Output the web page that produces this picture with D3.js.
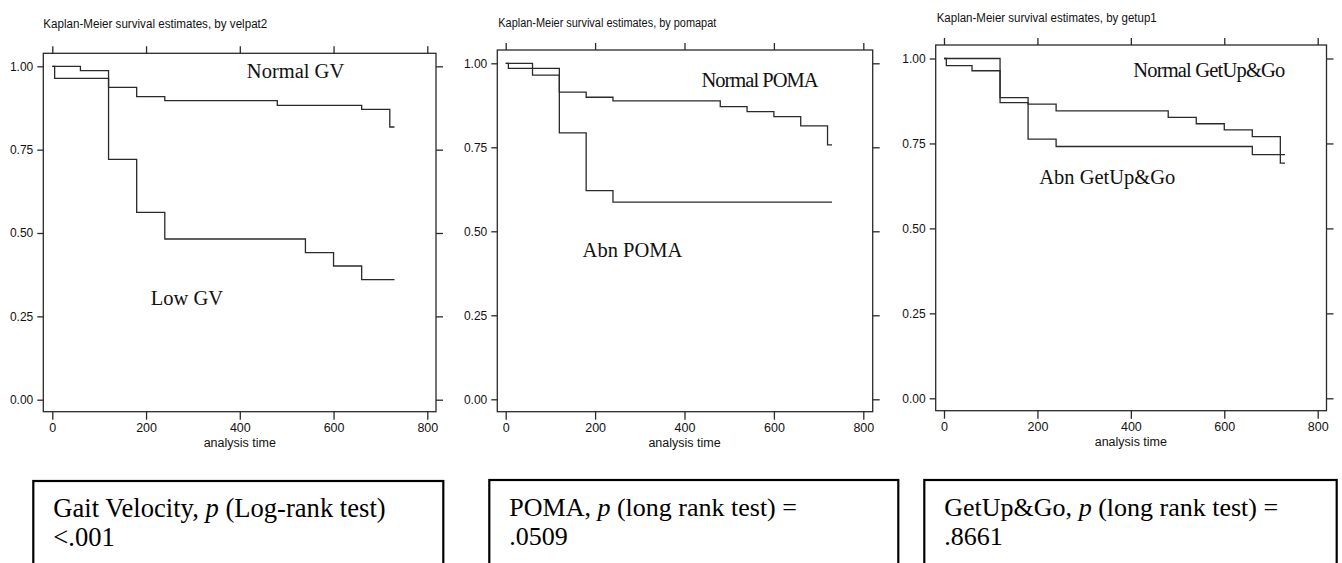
<!DOCTYPE html>
<html>
<head>
<meta charset="utf-8">
<script src="https://cdn.jsdelivr.net/npm/d3@7"></script>
<style>
  html, body { margin: 0; padding: 0; background: #fff; }
  svg { display: block; }
</style>
</head>
<body>
<svg id="chart" width="1342" height="563"></svg>
<script>
// ---------------- DATA ----------------
const panelTitles = [
  "Kaplan-Meier survival estimates, by velpat2",
  "Kaplan-Meier survival estimates, by pomapat",
  "Kaplan-Meier survival estimates, by getup1"
];
const timeTicks = [0, 200, 400, 600, 800];
const survTicks = [0, 0.25, 0.5, 0.75, 1];
const survTickLabels = ["0.00", "0.25", "0.50", "0.75", "1.00"];
const xAxisTitle = "analysis time";

// Panel 1: gait velocity
const gvNormalTime = [0, 60, 120, 180, 240, 480, 660, 720, 730];
const gvNormalSurv = [1.00, 0.987, 0.937, 0.909, 0.897, 0.883, 0.871, 0.818, 0.818];
const gvLowTime    = [0, 5, 120, 180, 240, 540, 600, 660, 730];
const gvLowSurv    = [1.00, 0.964, 0.721, 0.562, 0.482, 0.441, 0.401, 0.360, 0.360];

// Panel 2: POMA
const pomaNormalTime = [0, 60, 120, 180, 240, 480, 540, 600, 660, 720, 730];
const pomaNormalSurv = [1.00, 0.965, 0.914, 0.899, 0.888, 0.871, 0.856, 0.841, 0.814, 0.757, 0.757];
const pomaAbnTime    = [0, 6, 120, 180, 240, 730];
const pomaAbnSurv    = [1.00, 0.985, 0.793, 0.621, 0.587, 0.587];

// Panel 3: Get Up & Go
const gugNormalTime = [0, 5, 60, 120, 180, 240, 480, 540, 600, 660, 720, 730];
const gugNormalSurv = [1.00, 0.979, 0.964, 0.870, 0.866, 0.846, 0.827, 0.808, 0.790, 0.770, 0.692, 0.692];
const gugAbnTime    = [0, 120, 180, 240, 660, 730];
const gugAbnSurv    = [1.00, 0.885, 0.763, 0.741, 0.717, 0.717];

const curveLabels = [
  ["Normal GV", "Low GV"],
  ["Normal POMA", "Abn POMA"],
  ["Normal GetUp&Go", "Abn GetUp&Go"]
];
// test result boxes
const testNames  = ["Gait Velocity, ", "POMA, ", "GetUp&Go, "];
const testKinds  = [" (Log-rank test)", " (long rank test) =", " (long rank test) ="];
const testPvals  = ["<.001", ".0509", ".8661"];

// ---------------- LAYOUT ----------------
const layouts = [
  { box: [43.3, 53.3, 436, 411.7], xr: [52.3, 427.3], yr: [399.7, 66.3], titleX: 43.3, titleY: 27.5, titleW: 224,
    lab: [[415, 0.964], [210, 0.285]], tbox: [33.3, 481, 443.3], labSpacing: [0, 0], boxFont: 26.6 },
  { box: [497.3, 50, 872.7, 411.7], xr: [505.7, 863.3], yr: [399.3, 63.3], titleX: 498.3, titleY: 27, titleW: 218,
    lab: [[438, 0.93], [172, 0.425]], tbox: [489.3, 480, 898.3], labSpacing: [-1, 0], boxFont: 26 },
  { box: [935.7, 45, 1326.5, 410.7], xr: [944, 1317.7], yr: [398.3, 58.5], titleX: 936.7, titleY: 22, titleW: 220,
    lab: [[405, 0.946], [204, 0.631]], tbox: [924.3, 480, 1336.7], labSpacing: [-0.8, 0], boxFont: 26 }
];

const series = [
  [[gvNormalTime, gvNormalSurv], [gvLowTime, gvLowSurv]],
  [[pomaNormalTime, pomaNormalSurv], [pomaAbnTime, pomaAbnSurv]],
  [[gugNormalTime, gugNormalSurv], [gugAbnTime, gugAbnSurv]]
];

const svg = d3.select("#chart");
const sans = "'Liberation Sans', Arial, sans-serif";
const serif = "'Liberation Serif', 'Times New Roman', serif";
const ink = "#2a2a2a";

layouts.forEach((L, i) => {
  const g = svg.append("g");
  const x = d3.scaleLinear().domain([0, 800]).range(L.xr);
  const y = d3.scaleLinear().domain([0, 1]).range(L.yr);
  const [bx0, by0, bx1, by1] = L.box;

  // title
  g.append("text")
    .attr("x", L.titleX).attr("y", L.titleY)
    .attr("font-family", sans).attr("font-size", 12.5)
    .attr("textLength", L.titleW).attr("lengthAdjust", "spacingAndGlyphs")
    .attr("fill", "#111")
    .text(panelTitles[i]);

  // box
  g.append("rect")
    .attr("x", bx0).attr("y", by0)
    .attr("width", bx1 - bx0).attr("height", by1 - by0)
    .attr("fill", "none").attr("stroke", ink).attr("stroke-width", 1.3);

  // axes
  const styleAxis = sel => {
    sel.select(".domain").remove();
    sel.selectAll(".tick line").attr("stroke", ink).attr("stroke-width", 1.3);
    sel.selectAll(".tick text").attr("font-family", sans).attr("fill", "#111");
  };
  g.append("g").attr("transform", `translate(${bx0},0)`)
    .call(d3.axisLeft(y).tickValues(survTicks).tickSize(6).tickPadding(4)
      .tickFormat((d, k) => survTickLabels[k]))
    .call(styleAxis)
    .call(s => s.selectAll(".tick text").attr("font-size", 12));
  g.append("g").attr("transform", `translate(${bx1},0)`)
    .call(d3.axisRight(y).tickValues(survTicks).tickSize(7).tickFormat(""))
    .call(styleAxis);
  g.append("g").attr("transform", `translate(0,${by0})`)
    .call(d3.axisTop(x).tickValues(timeTicks).tickSize(7).tickFormat(""))
    .call(styleAxis);
  g.append("g").attr("transform", `translate(0,${by1})`)
    .call(d3.axisBottom(x).tickValues(timeTicks).tickSize(8).tickPadding(3)
      .tickFormat(d3.format("d")))
    .call(styleAxis)
    .call(s => s.selectAll(".tick text").attr("font-size", 12.5));

  g.append("text")
    .attr("x", (L.xr[0] + L.xr[1]) / 2).attr("y", by1 + 35)
    .attr("text-anchor", "middle")
    .attr("font-family", sans).attr("font-size", 12.5).attr("fill", "#111")
    .text(xAxisTitle);

  // curves
  const line = d3.line().curve(d3.curveStepAfter)
    .x(d => x(d[0])).y(d => y(d[1]));
  series[i].forEach(([ts, ss]) => {
    const pts = ts.map((t, k) => [t, ss[k]]);
    g.append("path").attr("d", line(pts))
      .attr("fill", "none").attr("stroke", ink).attr("stroke-width", 1.3);
  });

  // curve labels
  curveLabels[i].forEach((lab, k) => {
    g.append("text")
      .attr("x", x(L.lab[k][0])).attr("y", y(L.lab[k][1]))
      .attr("font-family", serif).attr("font-size", 20.5)
      .attr("letter-spacing", L.labSpacing[k])
      .attr("fill", "#111")
      .text(lab);
  });

  // test result box
  const [tx0, ty0, tx1] = L.tbox;
  g.append("rect")
    .attr("x", tx0).attr("y", ty0)
    .attr("width", tx1 - tx0).attr("height", 120)
    .attr("fill", "#fff").attr("stroke", "#000").attr("stroke-width", 2.2);
  const t1 = g.append("text")
    .attr("x", tx0 + 20).attr("y", ty0 + 36)
    .attr("font-family", serif).attr("font-size", L.boxFont).attr("fill", "#000");
  t1.append("tspan").text(testNames[i]);
  t1.append("tspan").attr("font-style", "italic").text("p");
  t1.append("tspan").text(testKinds[i]);
  g.append("text")
    .attr("x", tx0 + 20).attr("y", ty0 + 65)
    .attr("font-family", serif).attr("font-size", L.boxFont).attr("fill", "#000")
    .text(testPvals[i]);
});
</script>
</body>
</html>
